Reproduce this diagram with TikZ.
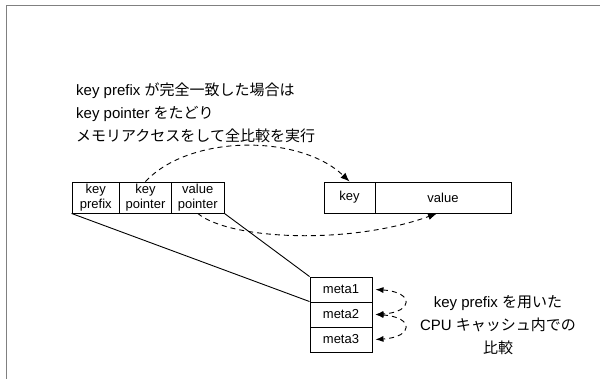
\documentclass[tikz,border=0pt]{standalone}
\usepackage{fontspec}
\setmainfont{Liberation Sans}
\newfontfamily\cjk{Noto Sans CJK JP}
\usetikzlibrary{arrows.meta}
\begin{document}
\begin{tikzpicture}[x=1pt,y=-1pt,
 cell/.style={draw, line width=0.9pt, inner sep=0pt, minimum height=31pt, align=center, font=\fontsize{13}{14.5}\selectfont},
 mcell/.style={draw, line width=0.9pt, inner sep=0pt, minimum width=62pt, minimum height=25pt, font=\fontsize{13}{14}\selectfont},
 link/.style={line width=0.9pt},
 dlink/.style={line width=0.9pt, dash pattern=on 5pt off 4pt, -{Latex[length=9pt,width=7pt]}},
 mlink/.style={line width=0.9pt, dash pattern=on 5pt off 4pt, {Latex[length=8pt,width=6pt]}-{Latex[length=8pt,width=6pt]}},
 note/.style={inner sep=0pt, font=\fontsize{15}{23}\selectfont}
]
\useasboundingbox (0,0) rectangle (600,379);
\draw[line width=1.5pt, color=gray] (6.5,379) -- (6.5,5.5) -- (600,5.5);

\node[cell, minimum width=47.5pt] (kp) at (95.75,197.5) {key\\prefix};
\node[cell, minimum width=52pt] (kptr) at (145.5,197.5) {key\\pointer};
\node[cell, minimum width=52.5pt] (vptr) at (197.75,197.5) {value\\pointer};
\node[cell, minimum width=51pt] (k) at (349.5,197.5) {key};
\node[cell, minimum width=136pt] (v) at (443,197.5) {value};
\node[mcell] (m1) at (341,289.5) {meta1};
\node[mcell] (m2) at (341,314.5) {meta2};
\node[mcell] (m3) at (341,339.5) {meta3};

\node[note, align=left, anchor=west] (t1) at (76,113) {key prefix {\cjk が完全一致した場合は}\\key pointer {\cjk をたどり}\\{\cjk メモリアクセスをして全比較を実行}};
\node[note, align=center] (t2) at (498,325) {key prefix {\cjk を用いた}\\CPU {\cjk キャッシュ内での}\\{\cjk 比較}};

\draw[link] (kp.south west) -- (m2.north west);
\draw[link] (vptr.south east) -- (m1.north west);

\draw[dlink] (kptr.north) .. controls (190,134) and (300,134) .. (k.north);
\draw[dlink] (vptr.south) .. controls (230,240) and (350,245) .. ([xshift=-6pt]v.south);

\draw[mlink] ([xshift=3pt]m1.east) .. controls (414,292) and (414,312) .. ([xshift=3pt]m2.east);
\draw[mlink] ([xshift=3pt]m2.east) .. controls (414,317) and (414,337) .. ([xshift=3pt]m3.east);
\end{tikzpicture}
\end{document}
